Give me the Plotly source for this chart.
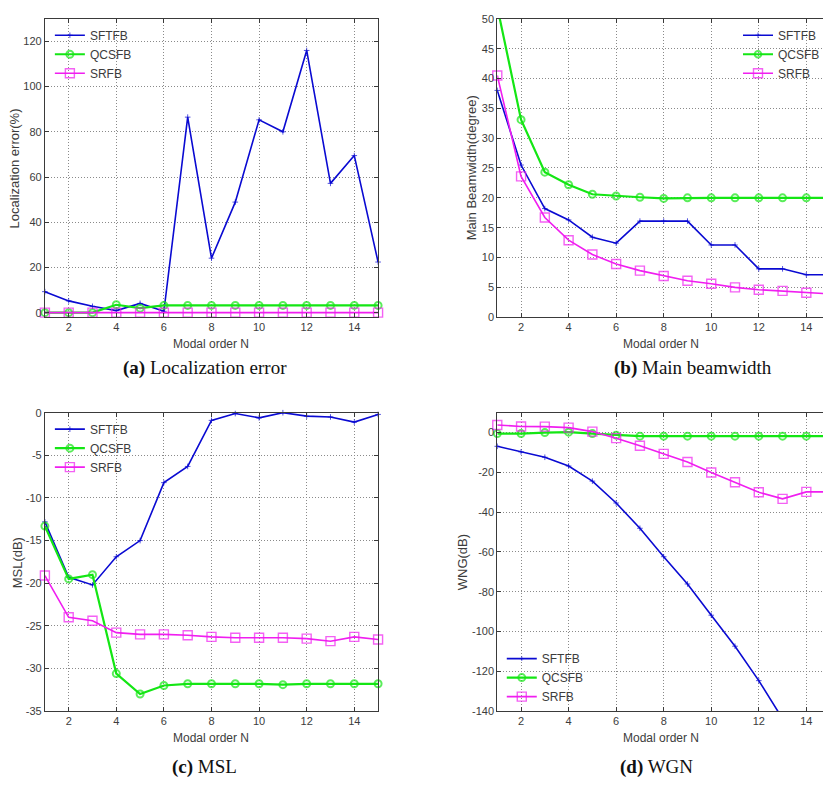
import plotly.graph_objects as go

# ---------------- data ----------------
N = [1, 2, 3, 4, 5, 6, 7, 8, 9, 10, 11, 12, 13, 14, 15]
series_names = ["SFTFB", "QCSFB", "SRFB"]

loc_sftfb = [9.3, 5.2, 2.8, 0.9, 4.1, 0.6, 86.5, 24.1, 48.9, 85.3, 80.0, 116.0, 57.2, 69.5, 22.4]
loc_qcsfb = [0.0, 0.0, 0.0, 3.5, 2.0, 3.2, 3.2, 3.2, 3.2, 3.2, 3.2, 3.2, 3.2, 3.2, 3.2]
loc_srfb = [0.0, 0.0, 0.0, 0.0, 0.0, 0.0, 0.0, 0.0, 0.0, 0.0, 0.0, 0.0, 0.0, 0.0, 0.0]

bw_sftfb = [38.0, 25.5, 18.2, 16.3, 13.4, 12.4, 16.1, 16.1, 16.1, 12.1, 12.1, 8.1, 8.1, 7.1, 7.1]
bw_qcsfb = [52.0, 33.1, 24.3, 22.2, 20.6, 20.3, 20.1, 19.9, 20.0, 20.0, 20.0, 20.0, 20.0, 20.0, 20.0]
bw_srfb = [40.5, 23.6, 16.7, 12.9, 10.5, 8.9, 7.8, 6.9, 6.1, 5.6, 5.0, 4.6, 4.4, 4.1, 3.9]

msl_sftfb = [-12.8, -19.3, -20.2, -16.9, -15.0, -8.2, -6.3, -0.9, -0.1, -0.6, 0.0, -0.4, -0.5, -1.1, -0.2]
msl_qcsfb = [-13.3, -19.5, -19.0, -30.6, -33.0, -32.0, -31.8, -31.8, -31.8, -31.8, -31.9, -31.8, -31.8, -31.8, -31.8]
msl_srfb = [-19.1, -24.0, -24.4, -25.8, -26.0, -26.0, -26.1, -26.3, -26.4, -26.4, -26.4, -26.5, -26.8, -26.3, -26.6]

wng_sftfb = [-6.9, -9.7, -12.4, -16.8, -24.4, -35.4, -48.1, -62.4, -76.1, -91.8, -107.4, -124.7, -143.0, -163.0, -185.0]
wng_qcsfb = [-0.5, -0.5, 0.0, 0.2, -0.5, -1.3, -1.8, -1.8, -1.8, -1.8, -1.8, -1.8, -1.8, -1.8, -1.8]
wng_srfb = [3.8, 3.1, 3.0, 2.5, 0.5, -2.8, -6.6, -10.7, -14.8, -20.1, -25.0, -30.0, -33.3, -29.8, -29.8]

x_ticks = [2, 4, 6, 8, 10, 12, 14]
y_ticks = [
    [0, 20, 40, 60, 80, 100, 120],
    [0, 5, 10, 15, 20, 25, 30, 35, 40, 45, 50],
    [-35, -30, -25, -20, -15, -10, -5, 0],
    [-140, -120, -100, -80, -60, -40, -20, 0],
]
x_title = "Modal order N"
y_titles = ["Localization error(%)", "Main Beamwidth(degree)", "MSL(dB)", "WNG(dB)"]
captions = ["<b>(a)</b> Localization error", "<b>(b)</b> Main beamwidth", "<b>(c)</b> MSL", "<b>(d)</b> WGN"]
y_ranges = [[-2, 130], [0, 50], [-35, 0], [-140, 10]]

# ---------------- layout helpers ----------------
W, H = 825, 787
def px(x):
    return x / W
def py(y):
    return 1 - y / H

BLUE = "#0a0ad2"
GREEN = "#14e614"
MAGENTA = "#f01ef0"
GRID = "#8a8a8a"
FRAME = "#3a3a3a"
TXT = "#3c3c3c"
SANS = "Liberation Sans, Arial, sans-serif"
SERIF = "Liberation Serif, Times New Roman, serif"

styles = [
    dict(color=BLUE, width=1.6, symbol="cross-thin-open", size=4, mlw=1.0),
    dict(color=GREEN, width=2.2, symbol="circle-open", size=7, mlw=2.0),
    dict(color=MAGENTA, width=1.6, symbol="square-open", size=9, mlw=1.4),
]

panels = [
    [loc_sftfb, loc_qcsfb, loc_srfb],
    [bw_sftfb, bw_qcsfb, bw_srfb],
    [msl_sftfb, msl_qcsfb, msl_srfb],
    [wng_sftfb, wng_qcsfb, wng_srfb],
]

fig = go.Figure()
legend_ids = ["legend", "legend2", "legend3", "legend4"]
for p, data in enumerate(panels):
    xa = "x" if p == 0 else f"x{p+1}"
    ya = "y" if p == 0 else f"y{p+1}"
    lo, hi = y_ranges[p]
    for s, vals in enumerate(data):
        st = styles[s]
        sizes = [st["size"] if lo <= v <= hi else 0 for v in vals]
        fig.add_trace(go.Scatter(
            x=N, y=vals, name=series_names[s], mode="lines+markers",
            xaxis=xa, yaxis=ya, legend=legend_ids[p], cliponaxis=False,
            line=dict(color=st["color"], width=st["width"]),
            marker=dict(symbol=st["symbol"], size=sizes, color=st["color"],
                        line=dict(color=st["color"], width=st["mlw"])),
        ))

# axis geometry (pixels)
left_x = (45, 379)
right_x0 = 498.5
right_unit = 23.83  # px per N unit on right panels
top_y = (13, 316)
bot_y = (413, 716)

x_doms = [[px(left_x[0]), px(left_x[1])], [px(right_x0), 1.0],
          [px(left_x[0]), px(left_x[1])], [px(right_x0), 1.0]]
y_doms = [[py(top_y[1]), py(top_y[0])], [py(top_y[1]), py(top_y[0])],
          [py(bot_y[1]), py(bot_y[0])], [py(bot_y[1]), py(bot_y[0])]]
right_max = 1 + (W - right_x0) / right_unit
x_ranges = [[1, 15], [1, right_max], [1, 15], [1, right_max]]

axis_common = dict(
    showgrid=True, gridcolor=GRID, griddash="1px,2px", gridwidth=1,
    zeroline=False, showline=True, linecolor=FRAME, linewidth=1,
    ticks="inside", ticklen=4, tickcolor=FRAME,
    tickfont=dict(family=SANS, size=11, color=TXT),
)

lay = {}
for p in range(4):
    xk = "xaxis" if p == 0 else f"xaxis{p+1}"
    yk = "yaxis" if p == 0 else f"yaxis{p+1}"
    lay[xk] = dict(axis_common, domain=x_doms[p], range=x_ranges[p],
                   tickmode="array", tickvals=x_ticks, ticktext=[str(v) for v in x_ticks],
                   mirror="ticks", anchor="y" if p == 0 else f"y{p+1}")
    lay[yk] = dict(axis_common, domain=y_doms[p], range=y_ranges[p],
                   tickmode="array", tickvals=y_ticks[p],
                   ticktext=[str(v) for v in y_ticks[p]],
                   mirror="ticks" if p in (0, 2) else False,
                   anchor="x" if p == 0 else f"x{p+1}")

legend_common = dict(bgcolor="rgba(0,0,0,0)", borderwidth=0,
                     font=dict(family=SANS, size=12, color=TXT),
                     xanchor="left", yanchor="top", tracegroupgap=0,
                     itemwidth=30)
lay["legend"] = dict(legend_common, x=px(50), y=py(15))
lay["legend2"] = dict(legend_common, x=px(740), y=py(15))
lay["legend3"] = dict(legend_common, x=px(50), y=py(415))
lay["legend4"] = dict(legend_common, x=px(503), y=py(648))

annotations = []
# x titles
for cx, cy in [(212, 343), (663, 343), (212, 743), (663, 743)]:
    annotations.append(dict(text=x_title, x=px(cx), y=py(cy), xref="paper", yref="paper",
                            showarrow=False, xanchor="center", yanchor="middle",
                            font=dict(family=SANS, size=12, color=TXT)))
# y titles
for t, (cx, cy) in zip(y_titles, [(15, 165), (473, 164), (17, 565), (464, 565)]):
    annotations.append(dict(text=t, x=px(cx), y=py(cy), xref="paper", yref="paper",
                            showarrow=False, xanchor="center", yanchor="middle", textangle=-90,
                            font=dict(family=SANS, size=13, color=TXT)))
# captions
for t, (cx, cy) in zip(captions, [(205, 368), (695, 368), (205, 773), (658, 773)]):
    annotations.append(dict(text=t, x=px(cx), y=py(cy), xref="paper", yref="paper",
                            showarrow=False, xanchor="center", yanchor="middle",
                            font=dict(family=SERIF, size=19, color="#111111")))

fig.update_layout(
    width=W, height=H, margin=dict(l=0, r=0, t=0, b=0),
    paper_bgcolor="white", plot_bgcolor="white",
    annotations=annotations, showlegend=True, **lay,
)

fig.write_html("out.html")
